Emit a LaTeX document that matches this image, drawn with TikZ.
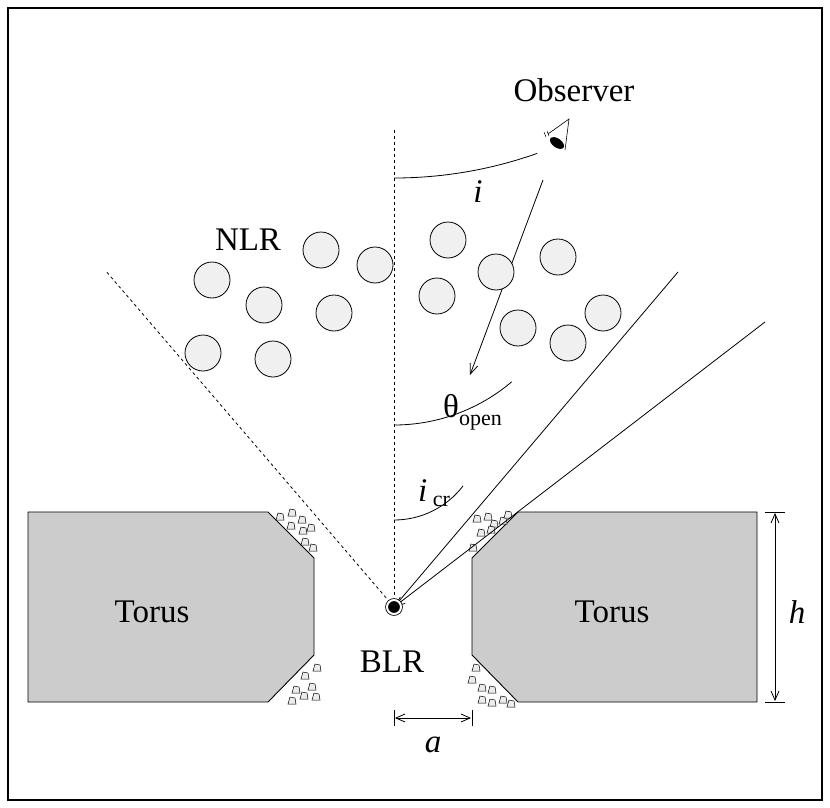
\documentclass[tikz,border=0pt]{standalone}
\usepackage{fontspec}
\setmainfont{Liberation Serif}
\usetikzlibrary{arrows.meta}
\begin{document}
\begin{tikzpicture}[x=1pt,y=-1pt,
  cloud/.style={circle,draw,fill=gray!12,minimum size=36pt,inner sep=0pt,line width=0.8pt},
  torus/.style={draw,fill=gray!40,line width=0.9pt},
  rock/.style={draw,fill=gray!15,line width=0.5pt},
  ln/.style={line width=0.8pt},
  lbl/.style={font=\fontsize{33}{38}\selectfont,inner sep=0pt}]
\useasboundingbox (0,0) rectangle (830,808);
\draw[line width=2pt] (8,8) rectangle (822,800);
% tori
\draw[torus] (28,512) -- (268,512) -- (314,558) -- (314,655) -- (268,702) -- (28,702) -- cycle;
\draw[torus] (472,558) -- (518,512) -- (757,512) -- (757,702) -- (518,702) -- (472,655) -- cycle;
\node[lbl] (tl) at (152,612) {Torus};
\node[lbl] (tr) at (612,612) {Torus};
% rocks
\foreach \x/\y in {280/517,292/513,302/520,291/526,303/531,311/528,305/542,313/548,
  317/668,305/676,312/687,296/690,304/696,292/701,316/697,
  477/519,488/517,494/524,503/521,508/515,481/533,491/530,473/548,
  476/668,472/680,482/688,492/690,482/700,492/703,503/700,511/704}
  \draw[rock] (\x-4,\y+3) -- (\x+4,\y+3) -- (\x+3,\y-3) -- (\x-2,\y-4) -- cycle;
% BLR
\coordinate (c) at (394,607);
\draw[dashed,ln] (394,130) -- (394,597);
\coordinate (ld) at (105,270);
\draw[dashed,ln] (c) -- (ld);
\coordinate (o1) at (678,272);
\coordinate (o2) at (765,322);
\draw[ln] (c) -- (o1);
\draw[ln,-{Straight Barb[length=10pt,width=8pt]}] (o2) -- (c);
\node[circle,draw,fill=black,minimum size=14pt,inner sep=0pt,double=white,double distance=2pt,line width=0.8pt] (blr) at (c) {};
\node[lbl] (blrl) at (392,662) {BLR};
% arcs
\draw[ln] (394,178) arc[start angle=90,end angle=70.5,radius=429];
\draw[ln] (394,425) arc[start angle=90,end angle=49.7,radius=182];
\draw[ln] (394,520) arc[start angle=90,end angle=37.5,radius=87];
\node[lbl] (il) at (478,192) {\itshape i};
\node[lbl,anchor=west] (tho) at (443,412) {θ\raisebox{-8pt}{\fontsize{22}{24}\selectfont open}};
\node[lbl,anchor=west] (icr) at (418,493) {\itshape i\,\raisebox{-5pt}{\upshape\fontsize{22}{24}\selectfont cr}};
% observer
\coordinate (os) at (543,180);
\coordinate (oe) at (470,375);
\draw[ln,-{Straight Barb[length=10pt,width=8pt]}] (os) -- (oe);
\node[lbl] (obs) at (574,90) {Observer};
\draw[line width=0.6pt] (548,134) -- (569,119) -- (565,150);
\fill[rotate around={-35:(557,143)}] (557,143) ellipse (8 and 4.5);
\draw[line width=0.5pt] (544,132) -- (546,137) (547,131) -- (549,136);
% NLR
\node[lbl] (nlr) at (248,240) {NLR};
\foreach \x/\y [count=\k] in {321/250,375/265,448/240,496/272,558/257,212/280,264/305,334/313,437/296,518/328,568/343,603/313,203/353,273/359}
  \node[cloud] (n\k) at (\x,\y) {};
% h and a
\draw[ln,{Straight Barb[length=9pt,width=8pt]}-{Straight Barb[length=9pt,width=8pt]}] (775,513) -- (775,701);
\draw[ln] (765,512) -- (785,512) (765,702) -- (785,702);
\node[lbl] (hl) at (797,612) {\itshape h};
\draw[ln,{Straight Barb[length=9pt,width=8pt]}-{Straight Barb[length=9pt,width=8pt]}] (395,718) -- (471,718);
\draw[ln] (394,710) -- (394,726) (472,710) -- (472,726);
\node[lbl] (al) at (433,745) {\itshape a};
\end{tikzpicture}
\end{document}
